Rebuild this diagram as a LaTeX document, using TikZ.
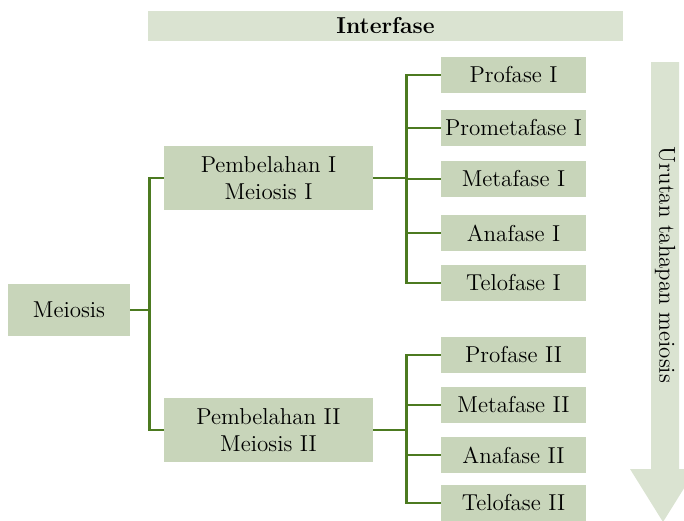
\documentclass[tikz,border=0pt]{standalone}
\usepackage{xcolor}
\usepackage{tikz}
\usetikzlibrary{positioning}
\definecolor{boxgreen}{HTML}{C8D5BA}
\definecolor{palegreen}{HTML}{DAE3D1}
\definecolor{linegreen}{HTML}{4C7A20}

\begin{document}
\begin{tikzpicture}[x=0.5pt, y=-0.5pt,
    every node/.style={font=\fontsize{11.5}{13.5}\selectfont, inner sep=0pt},
    box/.style={fill=boxgreen, align=center},
    phase/.style={box, minimum width=72.5pt, minimum height=18pt},
    division/.style={box, minimum width=104.5pt, minimum height=32pt},
    link/.style={draw=linegreen, line width=1.25pt}
  ]
    \useasboundingbox (0,0) rectangle (684,520);
    % interfase bar and arrow
    \node[fill=palegreen, minimum width=237.5pt, minimum height=15pt,
      font=\fontsize{11.5}{13.5}\selectfont\bfseries] (interfase) at (385.5,26) {Interfase};
    \begin{scope}
      \clip (0,0) rectangle (684,520);
      \fill[palegreen] (651,62) -- (679,62) -- (679,469) -- (696,469)
        -- (663,522) -- (630,469) -- (651,469) -- cycle;
    \end{scope}
    \node[rotate=-90] (urutan) at (665,265) {Urutan tahapan meiosis};

    \node[box, minimum width=61pt, minimum height=26pt] (meiosis) at (69,310) {Meiosis};
    \node[division] (pemb1) at (268.5,178) {Pembelahan I\\Meiosis I};
    \node[division] (pemb2) at (268.5,430) {Pembelahan II\\Meiosis II};

    \node[phase] (pro1) at (513.5,75) {Profase I};
    \node[phase] (prometa1) at (513.5,128) {Prometafase I};
    \node[phase] (meta1) at (513.5,179) {Metafase I};
    \node[phase] (ana1) at (513.5,233) {Anafase I};
    \node[phase] (telo1) at (513.5,283) {Telofase I};

    \node[phase] (pro2) at (513.5,355) {Profase II};
    \node[phase] (meta2) at (513.5,405) {Metafase II};
    \node[phase] (ana2) at (513.5,455) {Anafase II};
    \node[phase] (telo2) at (513.5,503) {Telofase II};

    \foreach \d in {pemb1, pemb2}
      \draw[link] (meiosis.east) -- ++(19,0) |- (\d.west);
    \foreach \p in {pro1, prometa1, meta1, ana1, telo1}
      \draw[link] (pemb1.east) -- ++(33,0) |- (\p.west);
    \foreach \p in {pro2, meta2, ana2, telo2}
      \draw[link] (pemb2.east) -- ++(33,0) |- (\p.west);
  \end{tikzpicture}
\end{document}
